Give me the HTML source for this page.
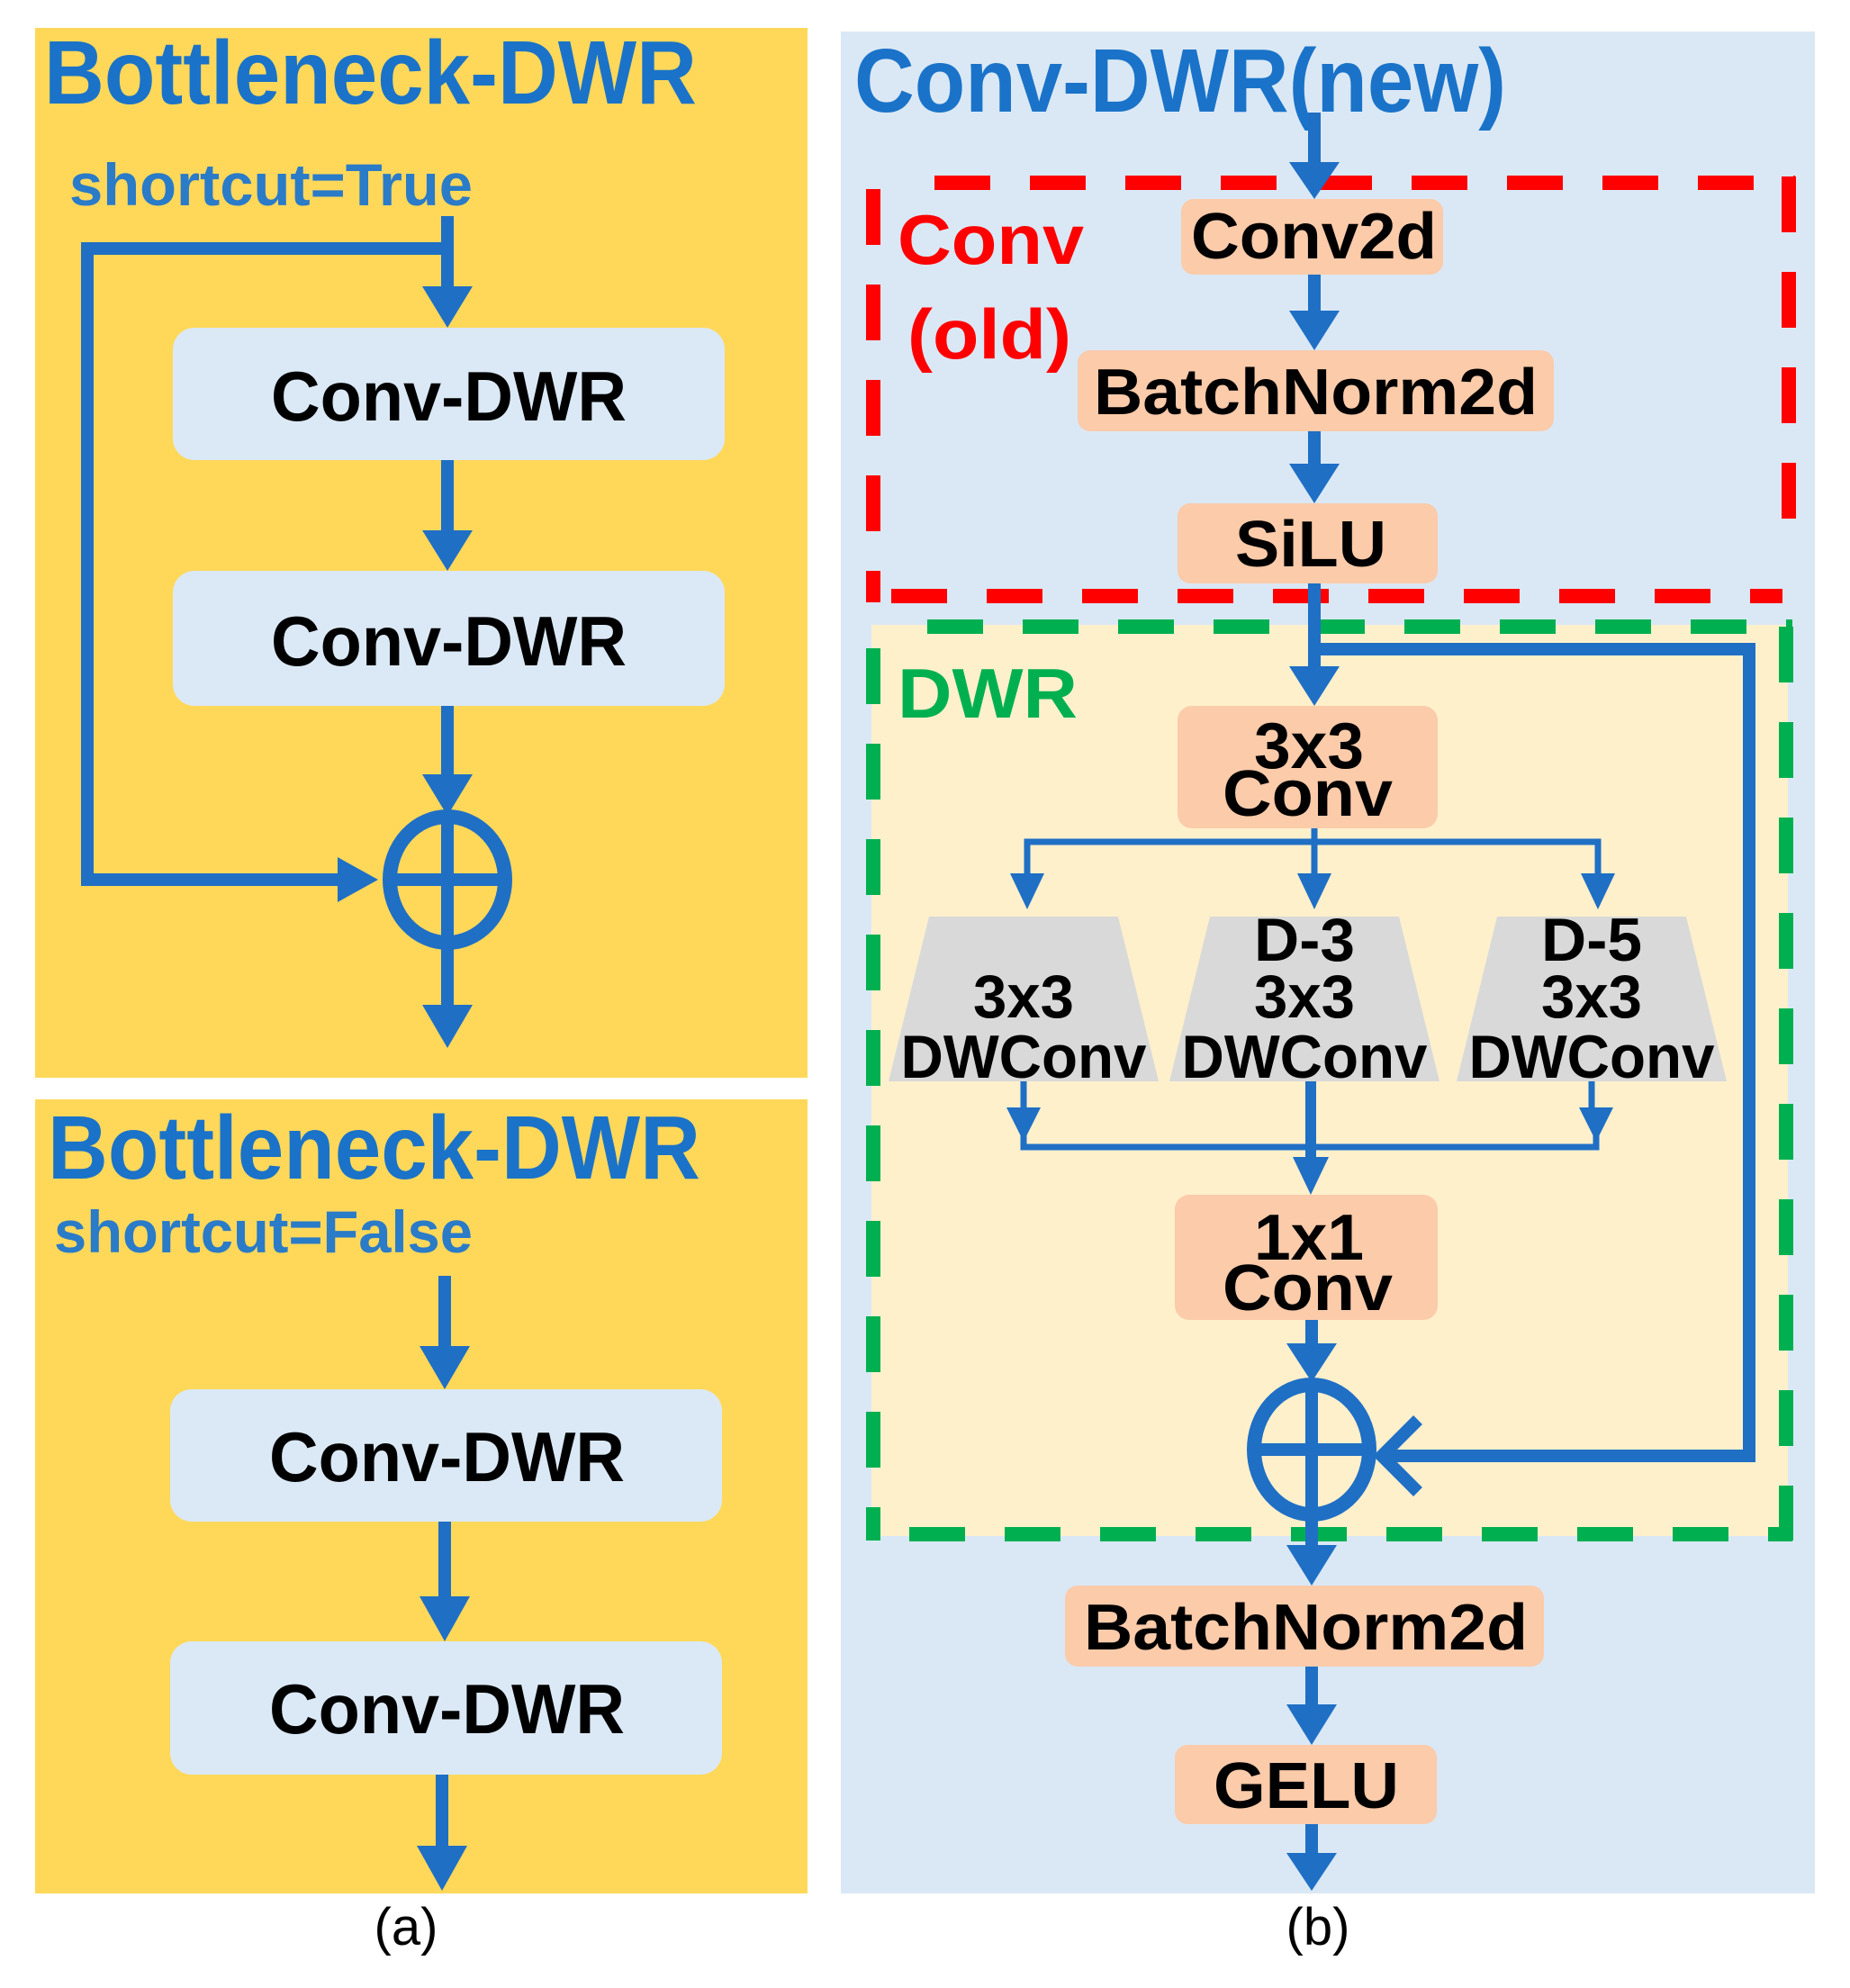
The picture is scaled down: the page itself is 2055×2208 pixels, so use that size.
<!DOCTYPE html>
<html><head><meta charset="utf-8"><style>html,body{margin:0;padding:0;background:#fff}svg{display:block}</style></head>
<body>
<svg width="2055" height="2208" viewBox="0 0 2055 2208" xmlns="http://www.w3.org/2000/svg" font-family="Liberation Sans, sans-serif" font-weight="bold">
<rect x="0" y="0" width="2055" height="2208" fill="#fff"/>
<rect x="39" y="31" width="858" height="1166" fill="#ffd85a"/>
<rect x="39" y="1221" width="858" height="882" fill="#ffd85a"/>
<rect x="934" y="35" width="1082" height="2068" fill="#dae8f5"/>
<rect x="968" y="694" width="1018" height="1012" fill="#fff0cc"/>

<text x="49" y="115" font-size="100" fill="#1a73c8" textLength="725" lengthAdjust="spacingAndGlyphs">Bottleneck-DWR</text>
<text x="77" y="228" font-size="66" fill="#2a7bc8" textLength="448" lengthAdjust="spacingAndGlyphs">shortcut=True</text>
<rect x="192" y="364" width="613" height="147" rx="24" fill="#dbe9f6"/>
<rect x="192" y="634" width="613" height="150" rx="24" fill="#dbe9f6"/>
<text x="301" y="467" font-size="78" fill="#000" textLength="395" lengthAdjust="spacingAndGlyphs">Conv-DWR</text>
<text x="301" y="739" font-size="78" fill="#000" textLength="395" lengthAdjust="spacingAndGlyphs">Conv-DWR</text>
<g fill="#1f6fc5" stroke="none">
 <rect x="490" y="240" width="14" height="80"/><polygon points="469,318 525,318 497,364"/>
 <rect x="490" y="511" width="14" height="80"/><polygon points="469,589 525,589 497,634"/>
 <rect x="490" y="784" width="14" height="90"/><polygon points="469,860 525,860 497,906"/>
 <rect x="490" y="1045" width="14" height="76"/><polygon points="469,1116 525,1116 497,1164"/>
 <polygon points="375,952 375,1002 420,977"/>
</g>
<polyline points="497,276 97,276 97,977 380,977" fill="none" stroke="#1f6fc5" stroke-width="14"/>
<ellipse cx="497" cy="977" rx="64" ry="70" fill="none" stroke="#1f6fc5" stroke-width="16"/>
<line x1="433" y1="977" x2="561" y2="977" stroke="#1f6fc5" stroke-width="14"/>
<line x1="497" y1="907" x2="497" y2="1047" stroke="#1f6fc5" stroke-width="14"/>

<text x="53" y="1309" font-size="100" fill="#1a73c8" textLength="725" lengthAdjust="spacingAndGlyphs">Bottleneck-DWR</text>
<text x="60" y="1391" font-size="66" fill="#2a7bc8" textLength="465" lengthAdjust="spacingAndGlyphs">shortcut=False</text>
<rect x="189" y="1543" width="613" height="147" rx="24" fill="#dbe9f6"/>
<rect x="189" y="1823" width="613" height="148" rx="24" fill="#dbe9f6"/>
<text x="299" y="1645" font-size="78" fill="#000" textLength="395" lengthAdjust="spacingAndGlyphs">Conv-DWR</text>
<text x="299" y="1925" font-size="78" fill="#000" textLength="395" lengthAdjust="spacingAndGlyphs">Conv-DWR</text>
<g fill="#1f6fc5">
 <rect x="487" y="1417" width="14" height="80"/><polygon points="466,1495 522,1495 494,1543"/>
 <rect x="487" y="1690" width="14" height="85"/><polygon points="466,1773 522,1773 494,1823"/>
 <rect x="484" y="1971" width="14" height="85"/><polygon points="463,2050 519,2050 491,2100"/>
</g>
<text x="451" y="2160" font-size="58" font-weight="normal" fill="#000" text-anchor="middle">(a)</text>
<text x="1464" y="2160" font-size="58" font-weight="normal" fill="#000" text-anchor="middle">(b)</text>

<text x="949" y="124" font-size="100" fill="#1a73c8" textLength="724" lengthAdjust="spacingAndGlyphs">Conv-DWR(new)</text>
<g stroke="#ff0000" stroke-width="16" fill="none" stroke-dasharray="62,44">
 <line x1="1038" y1="203" x2="1994" y2="203"/>
 <line x1="1987" y1="196" x2="1987" y2="600"/>
 <line x1="970" y1="210" x2="970" y2="669"/>
 <line x1="990" y1="662" x2="1980" y2="662"/>
</g>
<g stroke="#00b050" stroke-width="16" fill="none" stroke-dasharray="62,44">
 <line x1="1030" y1="696" x2="1991" y2="696"/>
 <line x1="1984" y1="696" x2="1984" y2="1711"/>
 <line x1="970" y1="720" x2="970" y2="1711"/>
 <line x1="1010" y1="1704" x2="1991" y2="1704"/>
</g>
<text x="997" y="293" font-size="78" fill="#ff0000" textLength="207" lengthAdjust="spacingAndGlyphs">Conv</text>
<text x="1008" y="398" font-size="78" fill="#ff0000" textLength="182" lengthAdjust="spacingAndGlyphs">(old)</text>
<text x="997" y="797" font-size="78" fill="#00b050" textLength="200" lengthAdjust="spacingAndGlyphs">DWR</text>

<g fill="#fbcbaa">
 <rect x="1312" y="221" width="291" height="84" rx="14"/>
 <rect x="1197" y="389" width="529" height="90" rx="14"/>
 <rect x="1308" y="559" width="289" height="89" rx="14"/>
 <rect x="1308" y="784" width="289" height="136" rx="16"/>
 <rect x="1305" y="1327" width="292" height="139" rx="16"/>
 <rect x="1183" y="1761" width="532" height="90" rx="14"/>
 <rect x="1305" y="1938" width="291" height="88" rx="14"/>
</g>
<g fill="#000" font-size="72">
 <text x="1323" y="287" textLength="273" lengthAdjust="spacingAndGlyphs">Conv2d</text>
 <text x="1215" y="460" textLength="493" lengthAdjust="spacingAndGlyphs">BatchNorm2d</text>
 <text x="1372" y="629" textLength="168" lengthAdjust="spacingAndGlyphs">SiLU</text>
 <text x="1393" y="853" textLength="122" lengthAdjust="spacingAndGlyphs">3x3</text>
 <text x="1358" y="906" textLength="189" lengthAdjust="spacingAndGlyphs">Conv</text>
 <text x="1393" y="1399" textLength="122" lengthAdjust="spacingAndGlyphs">1x1</text>
 <text x="1358" y="1455" textLength="189" lengthAdjust="spacingAndGlyphs">Conv</text>
 <text x="1204" y="1832" textLength="493" lengthAdjust="spacingAndGlyphs">BatchNorm2d</text>
 <text x="1348" y="2008" textLength="206" lengthAdjust="spacingAndGlyphs">GELU</text>
</g>
<g fill="#d9d9d9">
 <polygon points="1032,1018 1242,1018 1287,1201 987,1201"/>
 <polygon points="1344,1018 1554,1018 1599,1201 1299,1201"/>
 <polygon points="1663,1018 1873,1018 1918,1201 1618,1201"/>
</g>
<g fill="#000" font-size="68" text-anchor="middle">
 <text x="1137" y="1130" textLength="112" lengthAdjust="spacingAndGlyphs">3x3</text>
 <text x="1137" y="1197" textLength="273" lengthAdjust="spacingAndGlyphs">DWConv</text>
 <text x="1449" y="1067" textLength="112" lengthAdjust="spacingAndGlyphs">D-3</text>
 <text x="1449" y="1130" textLength="112" lengthAdjust="spacingAndGlyphs">3x3</text>
 <text x="1449" y="1197" textLength="273" lengthAdjust="spacingAndGlyphs">DWConv</text>
 <text x="1768" y="1067" textLength="112" lengthAdjust="spacingAndGlyphs">D-5</text>
 <text x="1768" y="1130" textLength="112" lengthAdjust="spacingAndGlyphs">3x3</text>
 <text x="1768" y="1197" textLength="273" lengthAdjust="spacingAndGlyphs">DWConv</text>
</g>
<g fill="#1f6fc5">
 <rect x="1453" y="125" width="14" height="60"/><polygon points="1432,180 1488,180 1460,221"/>
 <rect x="1453" y="305" width="14" height="45"/><polygon points="1432,345 1488,345 1460,389"/>
 <rect x="1453" y="479" width="14" height="40"/><polygon points="1432,515 1488,515 1460,559"/>
 <rect x="1453" y="648" width="14" height="95"/><polygon points="1432,740 1488,740 1460,784"/>
 <rect x="1450" y="1466" width="14" height="30"/><polygon points="1429,1492 1485,1492 1457,1535"/>
 <rect x="1450" y="1680" width="14" height="40"/><polygon points="1429,1716 1485,1716 1457,1761"/>
 <rect x="1450" y="1851" width="14" height="45"/><polygon points="1429,1893 1485,1893 1457,1938"/>
 <rect x="1450" y="2026" width="14" height="35"/><polygon points="1429,2058 1485,2058 1457,2100"/>
</g>
<polyline points="1460,721 1943,721 1943,1617 1535,1617" fill="none" stroke="#1f6fc5" stroke-width="14"/>
<polyline points="1575,1577 1535,1617 1575,1657" fill="none" stroke="#1f6fc5" stroke-width="14"/>
<ellipse cx="1457" cy="1610" rx="64" ry="72" fill="none" stroke="#1f6fc5" stroke-width="16"/>
<line x1="1393" y1="1610" x2="1521" y2="1610" stroke="#1f6fc5" stroke-width="14"/>
<line x1="1457" y1="1538" x2="1457" y2="1682" stroke="#1f6fc5" stroke-width="14"/>
<g stroke="#1f6fc5" stroke-width="7" fill="none">
 <line x1="1460" y1="920" x2="1460" y2="975"/>
 <polyline points="1141,975 1141,935 1775,935 1775,975"/>
 <line x1="1137" y1="1201" x2="1137" y2="1240"/>
 <line x1="1768" y1="1201" x2="1768" y2="1240"/>
 <polyline points="1137,1238 1137,1274 1773,1274 1773,1238"/>
</g>
<g fill="#1f6fc5">
 <polygon points="1122,970 1160,970 1141,1010"/>
 <polygon points="1441,970 1479,970 1460,1010"/>
 <polygon points="1756,970 1794,970 1775,1010"/>
 <polygon points="1118,1230 1156,1230 1137,1268"/>
 <polygon points="1754,1230 1792,1230 1773,1268"/>
 <rect x="1450" y="1201" width="12" height="90"/>
 <polygon points="1436,1285 1476,1285 1456,1327"/>
</g>
</svg>
</body></html>
